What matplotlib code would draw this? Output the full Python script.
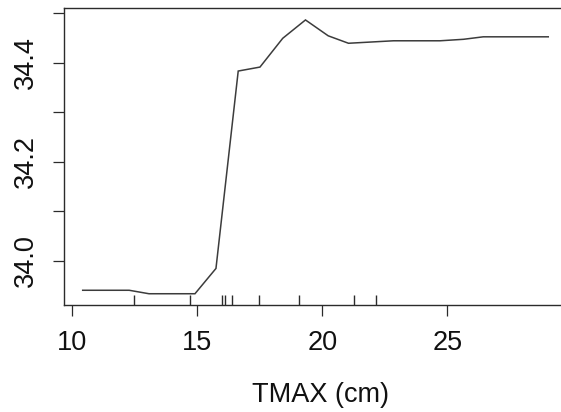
import matplotlib
matplotlib.use("Agg")
import matplotlib.pyplot as plt

# Partial dependence of the response on TMAX
tmax = [10.42, 12.28, 13.07, 14.91, 15.75, 16.64, 17.51, 18.42, 19.33,
        20.24, 21.05, 22.85, 24.71, 25.65, 26.44, 29.04]
effect = [33.941, 33.941, 33.934, 33.934, 33.985, 34.383, 34.391, 34.449,
          34.486, 34.454, 34.439, 34.444, 34.444, 34.447, 34.452, 34.452]

# Deciles of TMAX shown as a rug
rug_deciles = [12.46, 14.71, 15.98, 16.11, 16.40, 17.48, 19.06, 21.29, 22.15]

x_ticks = [10, 15, 20, 25]
y_ticks = [34.0, 34.1, 34.2, 34.3, 34.4, 34.5]
y_tick_labels = ["34.0", "", "34.2", "", "34.4", ""]

plt.rcParams["font.family"] = ["Liberation Sans", "DejaVu Sans"]
ink = "#2b2b2b"

W, H = 561, 412
fig = plt.figure(figsize=(W / 100, H / 100), dpi=100)
left, right, top, bottom = 63.7, 567.0, 8.0, 305.0
ax = fig.add_axes([left / W, 1 - bottom / H, (right - left) / W, (bottom - top) / H])

ax.plot(tmax, effect, color="#3c3c3c", lw=1.1, solid_joinstyle="miter")

# rug along the bottom edge
ax.vlines(rug_deciles, 0, 0.033, transform=ax.get_xaxis_transform(),
          color=ink, lw=1.0)

ax.set_xlim(9.66, 29.79)
ax.set_ylim(33.9113, 34.5101)

ax.set_xticks(x_ticks)
ax.set_xticklabels([str(v) for v in x_ticks])
ax.set_yticks(y_ticks)
ax.set_yticklabels(y_tick_labels)

for s in ax.spines.values():
    s.set_color(ink)
    s.set_linewidth(1.0)

ax.tick_params(axis="both", direction="out", length=8.2, width=0.9,
               color=ink, labelsize=19.5, labelcolor="#111111")
ax.tick_params(axis="x", pad=10)
ax.tick_params(axis="y", pad=10, labelrotation=90)
for lab in ax.get_yticklabels():
    lab.set_va("center")

ax.set_xlabel("TMAX (cm)", fontsize=19.5, color="#111111")
ax.xaxis.set_label_coords((320 - left) / (right - left), (bottom - 395) / (bottom - top))
ax.xaxis.label.set_va("center")

fig.savefig("out.png", dpi=100)
